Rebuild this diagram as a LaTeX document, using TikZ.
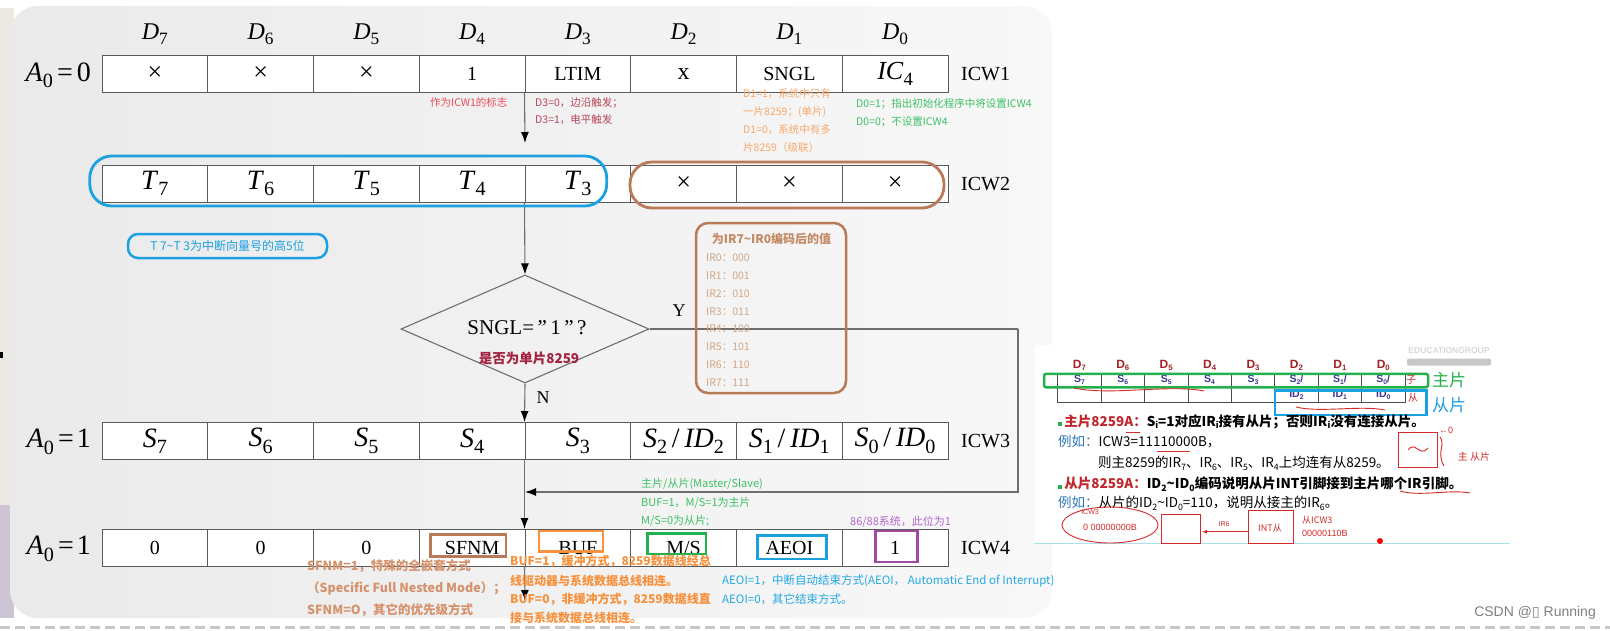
\documentclass[tikz,border=0pt]{standalone}
\usepackage{fontspec}
\usepackage{graphicx}
\setmainfont{Liberation Serif}
\newfontfamily\cjk{Noto Sans CJK SC}
\newfontfamily\lsans{Liberation Sans}
\newfontfamily\dvs{DejaVu Sans}
\usetikzlibrary{shapes.geometric,arrows.meta}
\definecolor{cellline}{HTML}{5A5A5A}
\definecolor{flowc}{HTML}{6E6E6E}
\definecolor{cblue}{HTML}{1BA1E2}
\definecolor{cbrown}{HTML}{B97A57}
\definecolor{cbrownt}{HTML}{D4A583}
\definecolor{cbrownh}{HTML}{C48A64}
\definecolor{cred}{HTML}{EE4B5B}
\definecolor{crose}{HTML}{B8465A}
\definecolor{corange}{HTML}{F9A86A}
\definecolor{corangeB}{HTML}{F7913D}
\definecolor{cgreen}{HTML}{3DC165}
\definecolor{cgreenB}{HTML}{22B14C}
\definecolor{cpurple}{HTML}{A349A4}
\definecolor{cpurplet}{HTML}{B565C8}
\definecolor{csalmon}{HTML}{D6926C}
\definecolor{cdred}{HTML}{A3233F}
\definecolor{aeoi}{HTML}{22A8E6}
\definecolor{insred}{HTML}{C0282D}
\definecolor{insblue}{HTML}{3A3A96}
\definecolor{hand}{HTML}{D42A2A}
\definecolor{exblue}{HTML}{2F78B8}
\definecolor{slideL}{HTML}{EAEAEA}
\definecolor{slideR}{HTML}{F8F8F8}
\definecolor{stripA}{HTML}{ECE8E2}
\definecolor{stripB}{HTML}{CDC4D6}
\newcommand\fsz[1]{\fontsize{#1}{#1}\selectfont}
\newcommand\sbs[1]{\raisebox{-0.5ex}{\scalebox{0.72}{#1}}}
\newcommand\isb[1]{\raisebox{-0.3ex}{\scalebox{0.65}{#1}}}
\begin{document}
\begin{tikzpicture}[x=1pt,y=-1pt,
  cell/.style={draw=cellline,line width=1pt,fill=white,minimum width=105.75pt,minimum height=37pt,inner sep=0pt,font=\fsz{20}},
  dlab/.style={font=\fsz{24},inner sep=0pt},
  alab/.style={anchor=east,font=\fsz{28},inner sep=0pt},
  icw/.style={anchor=west,font=\fsz{20},inner sep=0pt},
  flow/.style={draw=flowc,line width=1.1pt},
  tip/.style={-{Latex[length=11pt,width=8pt,color=black]}},
  note/.style={anchor=west,inner sep=0pt,font=\cjk\fsz{10.5}},
  hilite/.style={line width=2.8pt,inner sep=0pt},
  tcell/.style={draw=black!70,line width=0.8pt,minimum width=43.41pt,inner sep=0pt,font=\lsans\bfseries\fsz{10.5},text=insblue},
  ins/.style={anchor=west,inner sep=0pt,font=\cjk\fsz{13.5}},
  hand/.style={draw=hand,line width=0.9pt},
  handt/.style={text=hand,font=\lsans\fsz{9},inner sep=0pt}
]
\useasboundingbox (0,0) rectangle (1610,630);
% background
\fill[white] (0,0) rectangle (1610,630);
\fill[stripA] (0,8) rectangle (14,505);
\fill[stripB] (0,505) rectangle (14,618);
\shade[left color=slideL,right color=slideR,rounded corners=28pt] (10,6) rectangle (1052,618);
\draw[color=black!22,line width=3pt,dash pattern=on 10pt off 5pt] (0,627) -- (1610,627);
\fill[black] (0,352) rectangle (2.5,358);

% bit labels
\foreach \n [count=\i from 0] in {7,6,5,4,3,2,1,0}
  \node[dlab] (d\i) at ({154.875+105.75*\i},34) {\textit{D}\sbs{\n}};

% rows
\foreach \t [count=\i from 0] in {{\fsz{26}×},{\fsz{26}×},{\fsz{26}×},1,LTIM,{\fsz{24}x},SNGL,{\fsz{26}\textit{IC}\sbs{4}}}
  \node[cell] (a\i) at ({154.875+105.75*\i},74) {\t};
\foreach \t [count=\i from 0] in {{\fsz{28}\textit{T}\sbs{7}},{\fsz{28}\textit{T}\sbs{6}},{\fsz{28}\textit{T}\sbs{5}},{\fsz{28}\textit{T}\sbs{4}},{\fsz{28}\textit{T}\sbs{3}},{\fsz{26}×},{\fsz{26}×},{\fsz{26}×}}
  \node[cell] (b\i) at ({154.875+105.75*\i},183.5) {\t};
\foreach \t [count=\i from 0] in {{\fsz{28}\textit{S}\sbs{7}},{\fsz{28}\textit{S}\sbs{6}},{\fsz{28}\textit{S}\sbs{5}},{\fsz{28}\textit{S}\sbs{4}},{\fsz{28}\textit{S}\sbs{3}},{\fsz{28}\textit{S}\sbs{2}\,/\,\textit{ID}\sbs{2}},{\fsz{28}\textit{S}\sbs{1}\,/\,\textit{ID}\sbs{1}},{\fsz{28}\textit{S}\sbs{0}\,/\,\textit{ID}\sbs{0}}}
  \node[cell] (s\i) at ({154.875+105.75*\i},441) {\t};
\foreach \t [count=\i from 0] in {0,0,0,SFNM,BUF,M/S,AEOI,1}
  \node[cell] (f\i) at ({154.875+105.75*\i},548) {\t};

% A0 labels and ICW labels
\node[alab] (A1) at (91,75) {\textit{A}\sbs{0}\hspace{4pt}=\hspace{4pt}0};
\node[alab] (A3) at (91,442) {\textit{A}\sbs{0}\hspace{4pt}=\hspace{3pt}1};
\node[alab] (A4) at (91,549) {\textit{A}\sbs{0}\hspace{4pt}=\hspace{3pt}1};
\node[icw] (L1) at (961,74) {ICW1};
\node[icw] (L2) at (961,184) {ICW2};
\node[icw] (L3) at (961,441) {ICW3};
\node[icw] (L4) at (961,548) {ICW4};

% flow chart
\coordinate (c1) at (525,143);
\coordinate (yr) at (1018,329);
\coordinate (yj) at (525,492);
\coordinate (c5) at (525,601);
\node[diamond,draw=flowc,line width=1.1pt,minimum width=248pt,minimum height=108pt,inner sep=0pt] (dia) at (525,329) {};
\draw[flow,tip] (a4.south west) -- (c1);
\draw[flow,tip] (b4.south west) -- (dia.north);
\draw[flow,tip] (dia.south) -- (s4.north west);
\draw[flow] (dia.east) -- (yr);
\draw[flow,tip] (yr) |- (yj);
\draw[flow,tip] (s4.south west) -- (f4.north west);
\draw[flow,tip] (f4.south west) -- (c5);
\node[font=\fsz{21}] (q) at (527,328) {SNGL=\,”\,1\,”\,?};
\node[font=\cjk\bfseries\fsz{13.5},text=cdred] (q2) at (529,358) {是否为单片8259};
\node[font=\fsz{18}] (ylab) at (679,311) {Y};
\node[font=\fsz{18}] (nlab) at (543,398) {N};

% ovals and label boxes
\node[draw=cblue,hilite,rounded corners=22pt,minimum width=517pt,minimum height=50pt] (tov) at (348.25,181) {};
\node[draw=cbrown,hilite,rounded corners=22pt,minimum width=314pt,minimum height=46pt] (xov) at (787,185) {};
\node[draw=cblue,line width=2.5pt,rounded corners=10pt,minimum width=199pt,minimum height=24pt,inner sep=0pt,text=cblue,font=\cjk\fsz{12}] (tlab) at (227.5,246) {T 7\textasciitilde T 3为中断向量号的高5位};
\node[draw=cbrown,line width=2.5pt,rounded corners=12pt,minimum width=150pt,minimum height=170pt,inner sep=0pt] (irbox) at (771,308) {};
\node[font=\cjk\bfseries\fsz{12},text=cbrownh,inner sep=0pt] (irt) at (771.5,238.5) {为IR7\textasciitilde IR0编码后的值};
\foreach \c [count=\k from 0] in {000,001,010,011,100,101,110,111}
  \node[note,text=cbrownt] (ir\k) at (706,{258+17.8*\k}) {IR\k：\c};

% ICW1 notes
\node[note,text=cred] (n1) at (430,102) {作为ICW1的标志};
\node[note,text=crose] (n2) at (535,103) {D3=0，边沿触发；};
\node[note,text=crose] (n3) at (535,119.5) {D3=1，电平触发};
\node[note,text=corange] (n4) at (743,94) {D1=1，系统中只有};
\node[note,text=corange] (n5) at (743,112) {一片8259；(单片)};
\node[note,text=corange] (n6) at (743,130) {D1=0，系统中有多};
\node[note,text=corange] (n7) at (743,148) {片8259（级联）};
\node[note,text=cgreen] (n8) at (856,104) {D0=1；指出初始化程序中将设置ICW4};
\node[note,text=cgreen] (n9) at (856,122.5) {D0=0；不设置ICW4};

% ICW4 marks and notes
\node[draw=cbrown,hilite,minimum width=75.5pt,minimum height=22.4pt] (bS) at (468.25,545.5) {};
\node[draw=corangeB,hilite,minimum width=64pt,minimum height=20.7pt] (bB) at (571,541.35) {};
\node[draw=cgreenB,hilite,minimum width=58.5pt,minimum height=20.7pt] (bM) at (676.75,543.65) {};
\node[draw=cblue,hilite,minimum width=68.9pt,minimum height=23.3pt] (bA) at (792.25,547.35) {};
\node[draw=cpurple,hilite,minimum width=42pt,minimum height=31pt] (b1) at (896.65,546.5) {};
\node[note,font=\cjk\fsz{11},text=cgreen] (m1) at (641,484) {主片/从片(Master/Slave)};
\node[note,font=\cjk\fsz{11},text=cgreen] (m2) at (641,502.5) {BUF=1，M/S=1为主片};
\node[note,font=\cjk\fsz{11},text=cgreen] (m3) at (641,521) {M/S=0为从片;};
\node[note,font=\cjk\fsz{11},text=cpurplet] (p1) at (850,522) {86/88系统，此位为1};
\node[note,font=\cjk\bfseries\fsz{12.5},text=csalmon] (sf1) at (307,566) {SFNM=1，特殊的全嵌套方式};
\node[note,font=\cjk\bfseries\fsz{12.5},text=csalmon] (sf2) at (307,588.5) {（Specific Full Nested Mode）；};
\node[note,font=\cjk\bfseries\fsz{12.5},text=csalmon] (sf3) at (307,610) {SFNM=O，其它的优先级方式};
\node[note,font=\cjk\bfseries\fsz{12},text=corangeB] (bu1) at (510,561.5) {BUF=1，缓冲方式，8259数据线经总};
\node[note,font=\cjk\bfseries\fsz{12},text=corangeB] (bu2) at (510,580.5) {线驱动器与系统数据总线相连。};
\node[note,font=\cjk\bfseries\fsz{12},text=corangeB] (bu3) at (510,599.5) {BUF=0，非缓冲方式，8259数据线直};
\node[note,font=\cjk\bfseries\fsz{12},text=corangeB] (bu4) at (510,618) {接与系统数据总线相连。};
\node[note,font=\cjk\fsz{11.5},text=aeoi] (ae1) at (722,581) {AEOI=1，中断自动结束方式(AEOI， Automatic End of Interrupt)};
\node[note,font=\cjk\fsz{11.5},text=aeoi] (ae2) at (722,599.5) {AEOI=0，其它结束方式。};

% inset picture
\fill[white] (1035,345) rectangle (1510,543);
\draw[color={rgb,255:red,170;green,225;blue,240},line width=1pt] (1035,543) -- (1510,543);
\node[font=\lsans\bfseries\fsz{8.5},text=black!15,inner sep=0pt] (edu) at (1449,351) {EDUCATIONGROUP};
\node[fill=black!22,rounded corners=2pt,minimum width=84pt,minimum height=7pt,inner sep=0pt] (edubar) at (1449,362) {};
\foreach \n [count=\i from 0] in {7,6,5,4,3,2,1,0}
  \node[font=\lsans\bfseries\fsz{12},text=insred!85!black,inner sep=0pt] (h\i) at ({1079.4+43.41*\i},365) {D\isb{\n}};
\foreach \t [count=\i from 0] in {S\isb{7},S\isb{6},S\isb{5},S\isb{4},S\isb{3},S\isb{2}/,S\isb{1}/,S\isb{0}/}
  \node[tcell,minimum height=13.4pt] (ta\i) at ({1079.4+43.41*\i},380) {\t};
\foreach \t [count=\i from 0] in {{},{},{},{},{},ID\isb{2},ID\isb{1},ID\isb{0}}
  \node[tcell,minimum height=16pt] (tb\i) at ({1079.4+43.41*\i},394.7) {\t};
\node[draw=cgreenB,line width=2.5pt,rounded corners=2pt,minimum width=384pt,minimum height=13.3pt,inner sep=0pt] (zp) at (1236,380.6) {};
\node[anchor=west,font=\cjk\fsz{17},text=cgreenB,inner sep=0pt] (zpl) at (1432,380) {主片};
\node[draw=cblue,line width=2.5pt,minimum width=151.6pt,minimum height=24.3pt,inner sep=0pt] (cp) at (1350.8,402.85) {};
\node[anchor=west,font=\cjk\fsz{17},text=cblue,inner sep=0pt] (cpl) at (1432,405) {从片};
\node[ins,font=\cjk\bfseries\fsz{13.5}] (l1) at (1058,421.7) {{\color{cgreenB}\rule{4pt}{4pt}}\,{\color{insred}主片8259A：}S\isb{i}=1对应IR\isb{i}接有从片；否则IR\isb{i}没有连接从片。};
\node[ins] (l2) at (1058,441.7) {{\color{exblue}例如：}ICW3=11110000B，};
\node[ins] (l3) at (1098,463.3) {则主8259的IR\isb{7}、IR\isb{6}、IR\isb{5}、IR\isb{4}上均连有从8259。};
\node[ins,font=\cjk\bfseries\fsz{13.5}] (l4) at (1058,484.3) {{\color{cgreenB}\rule{4pt}{4pt}}\,{\color{insred}从片8259A：}ID\isb{2}\textasciitilde ID\isb{0}编码说明从片INT引脚接到主片哪个IR引脚。};
\node[ins] (l5) at (1058,503.3) {{\color{exblue}例如：}从片的ID\isb{2}\textasciitilde ID\isb{0}=110，说明从接主的IR\isb{6}。};
% handwritten marks
\draw[hand] (1074,388) .. controls (1110,396) and (1170,384) .. (1204,391);
\draw[hand] (1296,407) .. controls (1320,413) and (1360,405) .. (1385,410);
\node[handt,font=\cjk\fsz{10}] (hz) at (1411,380) {子};
\node[handt,font=\cjk\fsz{10}] (hc) at (1413,398) {从};
\draw[hand] (1126,432) -- (1140,432);
\draw[hand] (1157,451) -- (1190,451);
\draw[hand] (1398,432) rectangle (1437,467);
\draw[hand] (1408,450) .. controls (1415,440) and (1420,458) .. (1428,448);
\node[handt] (h0) at (1446,430) {←0};
\draw[hand] (1440,437) .. controls (1446,445) and (1436,452) .. (1444,466);
\node[handt,font=\cjk\fsz{10}] (hzc) at (1474,457) {主 从片};
\draw[hand] (1400,491) .. controls (1420,497) and (1450,489) .. (1470,493);
\draw[hand] (1110,525) ellipse (48pt and 18pt);
\node[handt,font=\lsans\fsz{7}] (hi) at (1090,512) {ICW3};
\node[handt] (hb) at (1110,527) {0 00000000B};
\draw[hand] (1161,514) rectangle (1200,543);
\draw[hand,-{Latex[length=5pt,width=4pt]}] (1248,531.7) -- (1202,531.7);
\node[handt,font=\lsans\fsz{7}] (hir) at (1224,524) {IR6};
\draw[hand] (1248,510) rectangle (1293,543);
\node[handt,font=\cjk\fsz{9}] (hint) at (1270,528) {INT从};
\node[handt,anchor=west,font=\cjk\fsz{9}] (hic) at (1302,520) {从ICW3};
\node[handt,anchor=west] (hnum) at (1302,533) {00000110B};
\fill[red] (1380,541) circle (3pt);
% watermark
\node[anchor=east,font=\lsans\fsz{14},text=black!50,inner sep=0pt] (wm) at (1596,613) {CSDN @{\dvs ▯} Running};
\end{tikzpicture}
\end{document}
